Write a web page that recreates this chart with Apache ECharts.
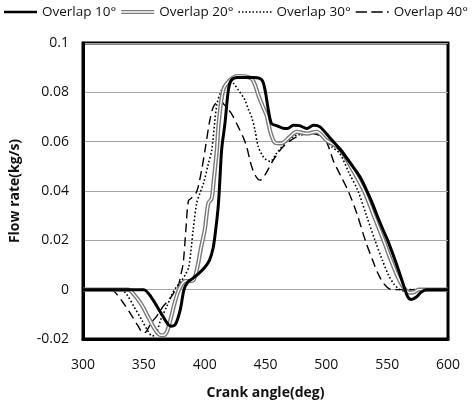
<!DOCTYPE html>
<html>
<head>
<meta charset="utf-8">
<script src="https://cdn.jsdelivr.net/npm/echarts@6/dist/echarts.min.js"></script>
<style>
html,body{margin:0;padding:0;background:#fff;}
#chartmain{width:472px;height:405px;}
</style>
</head>
<body>
<div id="chartmain"></div>
<script>
// data: crank angle (deg) and flow rate (kg/s)
var angle10 = [300,345,350,356,364,369,372,376,380,383,386,390,395,400,404,407,409,411,412,414,416.7,419.5,422,427,441,447,449.6,452.4,455,459,464,468,473,478,484,489.5,494.8,503,511,515,522,528,533,537,541,546,550,555,560,564,567,570,574,578,582,600];
var flow10 = [0,0,0,-0.003,-0.0094,-0.0135,-0.0148,-0.014,-0.008,0,0.003,0.0045,0.0065,0.009,0.012,0.017,0.024,0.033,0.040,0.057,0.0675,0.081,0.085,0.086,0.086,0.085,0.081,0.0727,0.0673,0.0665,0.0655,0.0653,0.0667,0.0665,0.0653,0.0667,0.066,0.0615,0.057,0.0545,0.0498,0.0455,0.0404,0.036,0.031,0.025,0.0205,0.014,0.007,0.001,-0.003,-0.004,-0.003,-0.001,0,0];

var angle20 = [300,337,342,348,354,359,363,366,369,372,375,378,381,384,388,391,394,397,400,403,405.8,407.2,410,411.5,415.3,420.8,427,433,438.6,441.4,444,448,451,454,458,463,470,475.6,484,492,500,511,520,531,539,547,553,558,562,565,568,572,576,600];
var flow20 = [0,0,-0.002,-0.006,-0.0115,-0.016,-0.0183,-0.0185,-0.017,-0.012,-0.006,-0.001,0.002,0.0035,0.0035,0.004,0.009,0.017,0.024,0.035,0.037,0.043,0.0566,0.0673,0.081,0.085,0.0866,0.0865,0.0855,0.083,0.079,0.074,0.0705,0.064,0.0595,0.0593,0.062,0.064,0.0633,0.064,0.0606,0.057,0.05,0.04,0.03,0.02,0.012,0.006,0.002,0,-0.0012,-0.001,0,0];

var angle30 = [300,331,336,342,348,353,357,360,364,369,373,377,380,384,387,390.5,393.4,396,399,403,405.8,410,414,418,421,424,427.6,433,436,438.6,441.4,444,448,451,454,459,467.5,475.6,486.6,497.5,504.4,511,519,526,533,540,546,551,556,560,563,567,600];
var flow30 = [0,0,-0.002,-0.007,-0.012,-0.0165,-0.0188,-0.018,-0.012,-0.0067,-0.002,0.0013,0.003,0.006,0.0094,0.024,0.035,0.039,0.043,0.051,0.0566,0.075,0.081,0.084,0.085,0.0835,0.081,0.077,0.073,0.070,0.0646,0.058,0.054,0.0525,0.052,0.0552,0.06,0.0626,0.0633,0.062,0.058,0.0552,0.047,0.04,0.03,0.02,0.012,0.006,0.002,0.0002,-0.0005,0,0];

var angle40 = [300,323,328,334,340,345,349.6,352,356,360.5,366,371,375,378,380,382.4,384.5,386.6,388.8,393.4,397.5,400.3,404,407,410,412.6,416,422,427.6,431.5,434.5,438,441.4,445.5,449.6,456.4,464.6,475.6,486.6,497.5,501,506,512,518,525,532,538,543,548,553.7,600];
var flow40 = [0,0,-0.002,-0.006,-0.0105,-0.0145,-0.0175,-0.017,-0.0135,-0.0108,-0.0067,-0.004,-0.001,0.001,0.005,0.011,0.024,0.036,0.037,0.0397,0.0485,0.0566,0.068,0.074,0.076,0.0768,0.075,0.0714,0.066,0.062,0.058,0.051,0.0465,0.0444,0.0465,0.0525,0.058,0.062,0.0633,0.062,0.059,0.052,0.046,0.04,0.031,0.02,0.012,0.006,0.002,0,0];

var xTicks = [300,350,400,450,500,550,600];
var yTicks = [-0.02,0,0.02,0.04,0.06,0.08,0.1];
var names = ['Overlap 10°','Overlap 20°','Overlap 30°','Overlap 40°'];

function pairs(xs, ys){
    var out = [];
    for(var i=0;i<xs.length;i++){
        out.push([xs[i], ys[i]]);
    }
    return out;
}

// legend icons drawn as paths (line samples)
var dotIcon = 'path://';
for(var k=0;k<10;k++){
    dotIcon += 'M'+(k*4)+',0h1.8v1.8h-1.8Z';
}
var solidIcon = 'path://M0,0H40V3.2H0Z';
var doubleIcon = 'path://M0,0H40V1.5H0Z M0,3.4H40V4.9H0Z';
var dashIcon = 'path://M0,0H13V1.6H0Z M18,0H31V1.6H18Z M36,0H38V1.6H36Z';

var font = 'Open Sans';

var option = {
    animation:false,
    backgroundColor:'#fff',
    legend:{
        left:4,
        top:5,
        padding:0,
        itemWidth:33,
        itemHeight:12,
        itemGap:5,
        textStyle:{
            fontFamily:font,
            fontSize:13.5,
            color:'#111'
        },
        data:[
            {name:names[0], icon:solidIcon},
            {name:names[1], icon:doubleIcon},
            {name:names[2], icon:dotIcon},
            {name:names[3], icon:dashIcon}
        ]
    },
    grid:{
        left:83,
        right:24,
        top:43,
        bottom:66,
        show:true,
        borderColor:'#000',
        borderWidth:3
    },
    xAxis:{
        type:'value',
        min:xTicks[0],
        max:xTicks[xTicks.length-1],
        interval:50,
        name:'Crank angle(deg)',
        nameLocation:'middle',
        nameGap:47,
        nameTextStyle:{
            fontFamily:font,
            fontSize:14,
            fontWeight:'bold',
            color:'#111'
        },
        axisLine:{
            onZero:false,
            lineStyle:{
                color:'#000',
                width:3
            }
        },
        axisTick:{show:false},
        splitLine:{show:false},
        axisLabel:{
            margin:19,
            fontFamily:font,
            fontSize:14,
            color:'#111'
        }
    },
    yAxis:{
        type:'value',
        min:yTicks[0],
        max:yTicks[yTicks.length-1],
        interval:0.02,
        name:'Flow rate(kg/s)',
        nameLocation:'middle',
        nameGap:61,
        nameTextStyle:{
            fontFamily:font,
            fontSize:14,
            fontWeight:'bold',
            color:'#111'
        },
        axisLine:{
            onZero:false,
            lineStyle:{
                color:'#000',
                width:3
            }
        },
        axisTick:{show:false},
        splitLine:{
            lineStyle:{
                color:'#a6a6a6',
                width:1
            }
        },
        axisLabel:{
            margin:14,
            fontFamily:font,
            fontSize:14,
            color:'#111',
            formatter:function(v){
                return String(Math.round(v*100)/100);
            }
        }
    },
    series:[{
        name:names[3],
        type:'line',
        showSymbol:false,
        symbol:'none',
        smooth:0.3,
        color:'#000',
        lineStyle:{
            color:'#000',
            width:1.4,
            type:[9,5]
        },
        data:pairs(angle40, flow40)
    },{
        name:names[2],
        type:'line',
        showSymbol:false,
        symbol:'none',
        smooth:0.3,
        color:'#000',
        lineStyle:{
            color:'#000',
            width:1.6,
            type:[1.6,2.2]
        },
        data:pairs(angle30, flow30)
    },{
        name:names[1],
        type:'line',
        showSymbol:false,
        symbol:'none',
        smooth:0.3,
        color:'#7a7a7a',
        lineStyle:{
            color:'#7a7a7a',
            width:4.2
        },
        data:pairs(angle20, flow20)
    },{
        name:'Overlap 20° inner',
        type:'line',
        showSymbol:false,
        symbol:'none',
        smooth:0.3,
        color:'#fff',
        lineStyle:{
            color:'#fff',
            width:1.4
        },
        data:pairs(angle20, flow20)
    },{
        name:names[0],
        type:'line',
        showSymbol:false,
        symbol:'none',
        smooth:0.3,
        color:'#000',
        lineStyle:{
            color:'#000',
            width:3
        },
        data:pairs(angle10, flow10)
    }]
};

var myChart = echarts.init(document.getElementById('chartmain'));
myChart.setOption(option);
</script>
</body>
</html>
